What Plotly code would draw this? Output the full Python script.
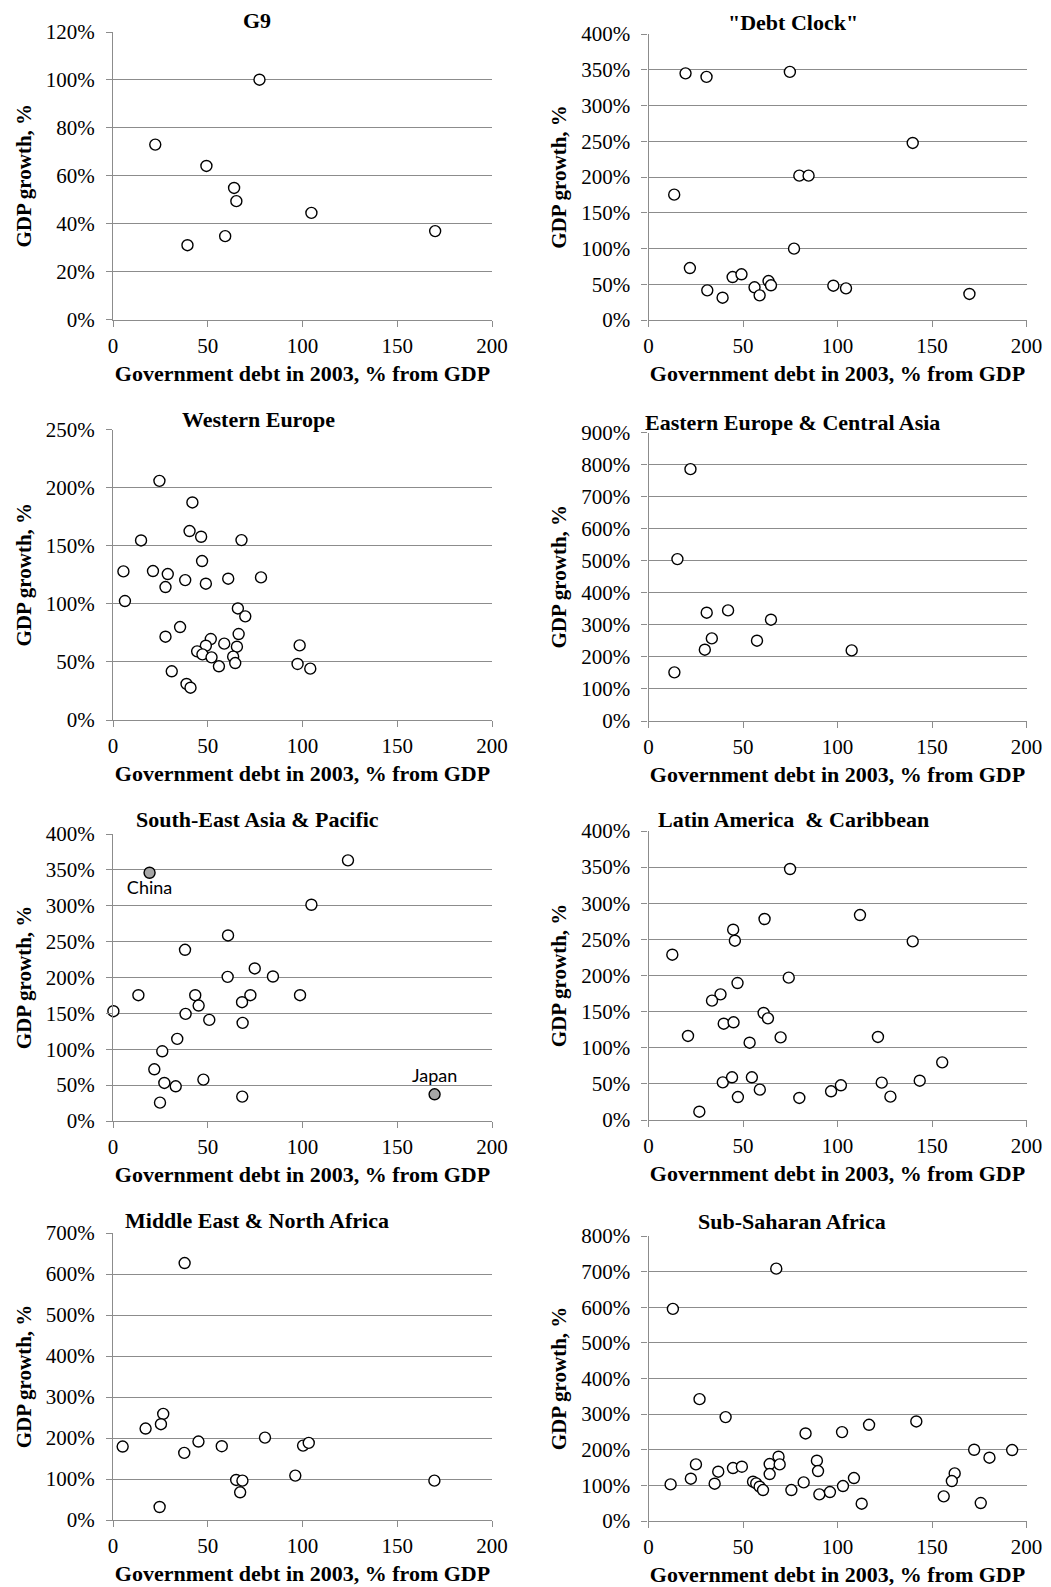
import plotly.graph_objects as go

# ---------------- data ----------------
g9_debt = [22.3, 77.3, 49.3, 63.9, 65.1, 104.7, 39.3, 59.2, 170.0]
g9_growth = [73.0, 100.1, 64.1, 54.9, 49.4, 44.5, 31.0, 34.8, 36.9]

clock_debt = [19.6, 30.7, 74.8, 139.8, 79.8, 84.7, 13.6, 77.0, 21.9, 44.5,
              49.2, 31.1, 39.2, 56.1, 58.8, 63.5, 64.8, 97.8, 104.5, 169.8]
clock_growth = [345, 340, 347, 247.6, 201.9, 201.9, 175.3, 99.8, 72.7, 60.1,
                63.9, 41.5, 31.2, 45.7, 34.5, 54.5, 48.5, 48.0, 44.3, 36.4]

weu_debt = [24.5, 41.9, 40.4, 46.5, 67.8, 14.8, 47.0, 5.5, 21.1, 28.9,
            38.1, 49.0, 60.8, 78.1, 27.7, 6.3, 65.9, 69.8, 35.4, 27.7,
            66.3, 51.6, 58.7, 49.0, 65.4, 44.4, 47.2, 52.0, 63.4, 64.5,
            55.9, 98.5, 97.4, 104.1, 31.0, 38.8, 40.9]
weu_growth = [205.8, 187.2, 162.6, 157.7, 154.8, 154.5, 136.8, 127.9, 128.2, 125.6,
              120.4, 117.3, 121.6, 122.7, 114.4, 102.4, 96.0, 89.2, 80.0, 71.7,
              74.0, 69.7, 65.7, 63.9, 63.1, 59.1, 56.5, 53.9, 54.5, 49.0,
              46.2, 64.2, 48.2, 44.2, 41.9, 31.0, 27.8]

eeu_debt = [22.2, 15.3, 30.8, 42.1, 64.8, 33.5, 29.8, 57.4, 107.5, 13.7]
eeu_growth = [785.7, 505, 337.8, 345, 316, 257.7, 222.4, 250.5, 220.3, 151.7]

sea_debt = [124.0, 104.7, 60.7, 38.0, 74.8, 60.5, 84.4, 13.4, 43.4, 72.5,
            98.7, 68.1, 45.2, 0.2, 38.3, 50.8, 68.4, 33.9, 26.0, 21.8,
            27.1, 33.1, 47.7, 24.8, 68.2]
sea_growth = [363.3, 301.4, 258.6, 238.6, 212.6, 200.9, 201.4, 175.3, 175.3, 175.3,
              175.3, 165.6, 160.9, 153.0, 149.3, 140.9, 136.7, 114.4, 97.2, 72.1,
              53.0, 48.4, 57.7, 25.6, 34.0]
sea_named = ["China", "Japan"]
sea_named_debt = [19.3, 169.7]
sea_named_growth = [346, 37.2]

lat_debt = [74.9, 111.9, 61.4, 44.8, 45.7, 139.8, 12.6, 74.2, 47.1, 38.1,
            33.6, 60.9, 63.2, 39.8, 45.0, 20.9, 69.9, 53.5, 121.4, 155.4,
            39.3, 44.2, 54.7, 58.9, 47.3, 26.9, 79.8, 96.6, 101.8, 123.4,
            128.0, 143.5]
lat_growth = [347.4, 283.7, 278.2, 263.4, 248.2, 247.3, 228.8, 197.0, 189.6, 173.9,
              165.2, 148.1, 140.7, 133.3, 135.2, 116.3, 114.4, 107.0, 114.9, 79.8,
              52.1, 59.1, 59.1, 42.0, 31.8, 11.5, 30.5, 39.7, 48.0, 51.7,
              32.3, 54.4]

mena_debt = [37.8, 26.5, 25.3, 17.2, 5.1, 37.6, 45.1, 57.4, 80.2, 100.3,
             103.3, 65.0, 68.3, 67.1, 96.2, 24.6, 169.6]
mena_growth = [626.7, 258.8, 233.6, 223.0, 179.1, 163.6, 191.3, 179.9, 201.0, 181.5,
               188.0, 97.7, 96.0, 67.6, 108.3, 31.7, 96.0]

ssa_debt = [67.6, 12.9, 27.0, 40.8, 83.1, 102.4, 116.7, 141.7, 172.3, 192.4,
            180.4, 162.0, 160.5, 156.2, 175.8, 11.7, 22.4, 25.1, 35.0, 36.9,
            44.7, 49.4, 55.3, 57.0, 58.8, 60.6, 64.1, 68.8, 69.4, 64.1,
            75.6, 82.1, 89.1, 89.7, 90.4, 96.0, 102.9, 108.7, 112.8]
ssa_growth = [708.4, 595.3, 342.1, 291.6, 245.8, 249.5, 270.1, 279.4, 200, 199.1,
              177.6, 133.6, 112.1, 69.2, 50.5, 102.8, 118.7, 158.9, 104.7, 138.3,
              148.6, 152.3, 110.3, 105.6, 96.3, 86.9, 159.8, 180.4, 158.9, 131.8,
              86.9, 108.4, 169.2, 140.2, 74.8, 81.3, 98.1, 120.6, 48.6]

panel_titles = ["G9", "\"Debt Clock\"", "Western Europe", "Eastern Europe & Central Asia",
                "South-East Asia & Pacific", "Latin America  & Caribbean",
                "Middle East & North Africa", "Sub-Saharan Africa"]
panel_debt = [g9_debt, clock_debt, weu_debt, eeu_debt, sea_debt, lat_debt, mena_debt, ssa_debt]
panel_growth = [g9_growth, clock_growth, weu_growth, eeu_growth, sea_growth, lat_growth,
                mena_growth, ssa_growth]
panel_ymax = [120, 400, 250, 900, 400, 400, 700, 800]
panel_dtick = [20, 50, 50, 100, 50, 50, 100, 100]

x_title = "Government debt in 2003, % from GDP"
y_title = "GDP growth, %"

# ---------------- layout geometry (page pixels) ----------------
PAGE_W, PAGE_H = 1051, 1587
OFF = 8                     # default body margin of the html page
W, H = PAGE_W - OFF, PAGE_H - OFF

col_x = [(113, 492), (648.5, 1026.5)]
rows_px = [(32, 319.5), (34, 320), (429.5, 720), (432.5, 721),
           (834, 1121), (831, 1120), (1233, 1520), (1236, 1521)]
title_pos = [(257, 20), (793, 22), (258, 420), (792, 422.5),
             (257.5, 820), (793, 820), (257, 1220.5), (792, 1221)]


def fx(px):
    return (px - OFF) / W


def fy(py):
    return 1 - (py - OFF) / H


SERIF = "Liberation Serif, Times New Roman, serif"
GRID = "#8c8c8c"

fig = go.Figure()
layout = dict(
    template="none",
    width=W, height=H, autosize=False,
    margin=dict(l=0, r=0, t=0, b=0, pad=0),
    paper_bgcolor="white", plot_bgcolor="white",
    showlegend=False,
    font=dict(family=SERIF, color="black"),
    annotations=[],
)

marker_open = dict(symbol="circle", size=11, color="white",
                   line=dict(color="black", width=1.4))

for i in range(8):
    n = i + 1
    xs = "x" if n == 1 else f"x{n}"
    ys = "y" if n == 1 else f"y{n}"
    xk = "xaxis" if n == 1 else f"xaxis{n}"
    yk = "yaxis" if n == 1 else f"yaxis{n}"
    c = i % 2
    x0, x1 = col_x[c]
    top, bot = rows_px[i]

    fig.add_trace(go.Scatter(
        x=panel_debt[i], y=panel_growth[i], mode="markers",
        marker=marker_open, xaxis=xs, yaxis=ys, cliponaxis=False,
        hoverinfo="x+y"))

    layout[xk] = dict(
        domain=[fx(x0), fx(x1)], anchor=ys, range=[0, 200], dtick=50,
        automargin=False,
        showgrid=False, zeroline=False, showline=True, linecolor=GRID, linewidth=1.3,
        ticks="outside", ticklen=6, tickcolor=GRID, tickwidth=1.3,
        ticklabelstandoff=1,
        tickfont=dict(family=SERIF, size=21, color="black"),
        title=dict(text=x_title, standoff=8,
                   font=dict(family=SERIF, size=22, color="black", weight="bold")),
    )
    layout[yk] = dict(
        domain=[fy(bot), fy(top)], anchor=xs, range=[0, panel_ymax[i]],
        dtick=panel_dtick[i], ticksuffix="%",
        automargin=False,
        showgrid=True, gridcolor=GRID, gridwidth=1.3,
        zeroline=False, showline=True, linecolor=GRID, linewidth=1.3,
        ticks="outside", ticklen=6, tickcolor=GRID, tickwidth=1.3,
        ticklabelstandoff=7,
        tickfont=dict(family=SERIF, size=21, color="black"),
        title=dict(text=y_title, standoff=8,
                   font=dict(family=SERIF, size=21, color="black", weight="bold")),
    )
    tx, ty = title_pos[i]
    layout["annotations"].append(dict(
        text=panel_titles[i], xref="paper", yref="paper",
        x=fx(tx), y=fy(ty), xanchor="center", yanchor="middle",
        showarrow=False, font=dict(family=SERIF, size=22, color="black", weight="bold")))

# highlighted countries on the South-East Asia panel
fig.add_trace(go.Scatter(
    x=sea_named_debt, y=sea_named_growth, mode="markers+text",
    text=sea_named, textposition=["bottom center", "top center"],
    textfont=dict(family="Lato, Carlito, Calibri, sans-serif", size=18, color="black"),
    marker=dict(symbol="circle", size=11, color="#a6a6a6",
                line=dict(color="black", width=1.4)),
    xaxis="x5", yaxis="y5", cliponaxis=False, hoverinfo="text+x+y"))

fig.update_layout(**layout)
fig.write_html("out.html")
